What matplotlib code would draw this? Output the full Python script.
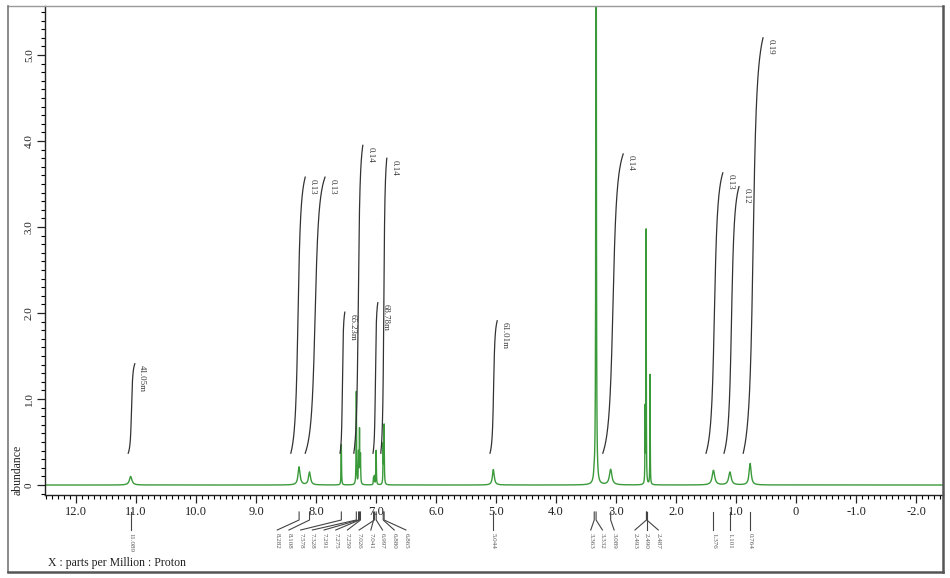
import matplotlib
matplotlib.use("Agg")
import matplotlib.pyplot as plt
import matplotlib.transforms as mtransforms
from matplotlib.ticker import MultipleLocator, FuncFormatter
import numpy as np

# Spectrum lines: position (ppm), height, half width (ppm)
line_ppm = [11.089, 8.282, 8.108, 7.578, 7.328, 7.291, 7.275, 7.259,
            7.041, 7.026, 6.997, 6.880, 6.865, 5.044, 3.363, 3.332,
            3.089, 2.515, 2.498, 2.432, 1.376, 1.101, 0.764]
line_height = [0.10, 0.21, 0.15, 0.47, 1.08, 0.35, 0.62, 0.33,
               0.08, 0.10, 0.40, 0.45, 0.68, 0.18, 0.07, 12.0,
               0.18, 0.85, 2.95, 1.28, 0.17, 0.15, 0.25]
line_width = [0.025, 0.02, 0.02, 0.004, 0.004, 0.004, 0.004, 0.004,
              0.004, 0.004, 0.004, 0.004, 0.004, 0.018, 0.012, 0.004,
              0.025, 0.003, 0.003, 0.003, 0.025, 0.025, 0.02]

# Peak pick labels (in the order they are printed)
peak_labels = [11.089, 8.282, 8.108, 7.578, 7.328, 7.291, 7.275, 7.259,
               7.026, 7.041, 6.997, 6.880, 6.865, 5.044, 3.363, 3.332,
               3.089, 2.493, 2.490, 2.487, 1.376, 1.101, 0.764]

# Integration curves: start ppm, end ppm, top of curve, printed value
integ_from = [11.13, 8.42, 8.18, 7.60, 7.37, 7.05, 6.92, 5.10, 3.22, 1.50, 1.20, 0.88]
integ_to = [11.02, 8.18, 7.85, 7.52, 7.22, 6.97, 6.82, 4.98, 2.88, 1.22, 0.95, 0.55]
integ_top = [1.41, 3.58, 3.58, 2.01, 3.95, 2.12, 3.80, 1.91, 3.85, 3.63, 3.47, 5.20]
integ_text = ["41.05m", "0.13", "0.13", "65.23m", "0.14", "68.78m", "0.14",
              "61.01m", "0.14", "0.13", "0.12", "0.19"]
integ_base = 0.37

W, H = 950, 578
GREEN = "#3a9a3a"


def fy(ypx):
    # pixel row (from top) -> figure fraction
    return 1 - ypx / H


def spread_labels(ppms, gap):
    # group neighbouring peaks so their labels do not overlap,
    # each group centred under the middle of its peaks
    groups = [[p] for p in ppms]
    merged = True
    while merged:
        merged = False
        for i in range(len(groups) - 1):
            a, b = groups[i], groups[i + 1]
            ca = (max(a) + min(a)) / 2
            cb = (max(b) + min(b)) / 2
            lo_a = ca - (len(a) - 1) * gap / 2
            hi_b = cb + (len(b) - 1) * gap / 2
            if lo_a - hi_b < gap:
                groups[i] = a + b
                del groups[i + 1]
                merged = True
                break
    out = []
    for g in groups:
        c = (max(g) + min(g)) / 2
        start = c + (len(g) - 1) * gap / 2
        for k, p in enumerate(g):
            out.append((p, start - k * gap))
    return out


def integral_curve(x0, x1, top, theta=1.3):
    s = np.linspace(0, 1, 200)
    g = 0.5 + 0.5 * np.tan((s - 0.5) * 2 * theta) / np.tan(theta)
    return x0 + (x1 - x0) * g, integ_base + (top - integ_base) * s


plt.rcParams['font.family'] = ['Liberation Serif', 'DejaVu Serif']

fig = plt.figure(figsize=(W / 100, H / 100), dpi=100)
ax = fig.add_axes([45 / W, fy(495), (943 - 45) / W, (495 - 6) / H])

# Spectrum
x = np.union1d(np.linspace(12.52, -2.46, 20000), np.array(line_ppm))
y = np.zeros_like(x)
for c, h, w in zip(line_ppm, line_height, line_width):
    y += h / (1 + ((x - c) / w) ** 2)
ax.plot(x, y, color=GREEN, lw=1.0)

# Integrals
for x0, x1, top, txt in zip(integ_from, integ_to, integ_top, integ_text):
    ix, iy = integral_curve(x0, x1, top)
    ax.plot(ix, iy, color="#333333", lw=0.9)
    ax.annotate(txt, (x1, top), xytext=(2.5, -1), textcoords="offset points",
                rotation=-90, ha="left", va="top", fontsize=6.3, color="#333333")

ax.set_xlim(12.517, -2.45)
ax.set_ylim(-0.116, 5.57)

fmt = FuncFormatter(lambda v, p: "0" if abs(v) < 1e-9 else "%.1f" % v)
ax.xaxis.set_major_locator(MultipleLocator(1.0))
ax.xaxis.set_minor_locator(MultipleLocator(0.1))
ax.yaxis.set_major_locator(MultipleLocator(1.0))
ax.yaxis.set_minor_locator(MultipleLocator(0.1))
ax.xaxis.set_major_formatter(fmt)
ax.yaxis.set_major_formatter(fmt)
ax.tick_params(axis="both", which="major", length=6, width=0.9, direction="out",
               labelsize=9, pad=2, colors="#222222")
ax.tick_params(axis="both", which="minor", length=3, width=0.8, direction="out")
ax.tick_params(axis="y", labelrotation=90, labelsize=8, pad=2)
for lab in ax.get_yticklabels():
    lab.set_va("center")
for side in ["top", "right"]:
    ax.spines[side].set_visible(False)
for side in ["left", "bottom"]:
    ax.spines[side].set_linewidth(1.0)
    ax.spines[side].set_color("#222222")

# Peak pick labels under the axis
trans = mtransforms.blended_transform_factory(ax.transData, fig.transFigure)
for p, lx in spread_labels(peak_labels, 11.7 / 60):
    ax.plot([p, p, lx], [fy(512), fy(520), fy(530)], color="#444444", lw=0.8,
            transform=trans, clip_on=False)
    ax.text(lx, fy(533), "%.3f" % p, rotation=-90, ha="center", va="top",
            fontsize=5, color="#555555", transform=trans)

fig.text(18 / W, fy(470), "abundance", rotation=90, ha="center", va="center",
         fontsize=8.5, color="#222222")
fig.text(48 / W, fy(563), "X : parts per Million : Proton", ha="left", va="center",
         fontsize=8.5, color="#222222")

# Outer frame
fig.add_artist(plt.Line2D([8 / W, 943 / W], [fy(6), fy(6)], color="#999999", lw=1.0))
fig.add_artist(plt.Line2D([8 / W, 8 / W], [fy(6), fy(572)], color="#777777", lw=1.2))
fig.add_artist(plt.Line2D([8 / W, 943 / W], [fy(572), fy(572)], color="#555555", lw=1.8))
fig.add_artist(plt.Line2D([943 / W, 943 / W], [fy(6), fy(572)], color="#555555", lw=1.8))

fig.savefig("out.png", dpi=100)
